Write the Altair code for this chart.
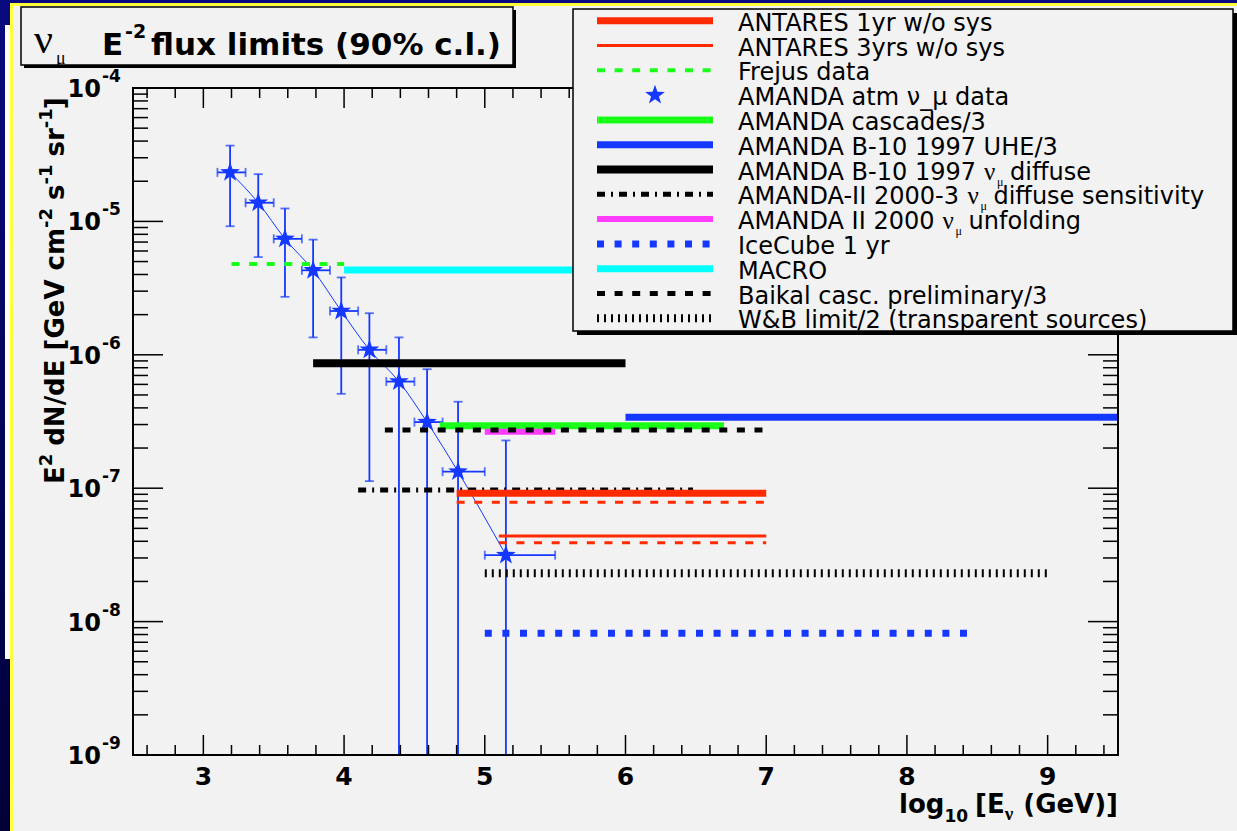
import altair as alt
import pandas as pd

# ---------------- data ----------------
# AMANDA atmospheric nu_mu spectrum: log10(E/GeV) bin centre and edges,
# E^2 dN/dE [GeV cm^-2 s^-1 sr^-1] with upper / lower error
atm_logE = [3.19, 3.39, 3.58, 3.78, 3.98, 4.18, 4.39, 4.59, 4.81, 5.15]
atm_logE_lo = [3.10, 3.30, 3.50, 3.70, 3.90, 4.10, 4.30, 4.50, 4.70, 5.00]
atm_logE_hi = [3.30, 3.50, 3.70, 3.90, 4.10, 4.30, 4.50, 4.70, 5.00, 5.50]
atm_flux = [2.33e-5, 1.38e-5, 7.4e-6, 4.3e-6, 2.13e-6, 1.09e-6, 6.3e-7, 3.13e-7, 1.33e-7, 3.15e-8]
atm_flux_hi = [3.7e-5, 2.26e-5, 1.25e-5, 7.3e-6, 3.8e-6, 2.05e-6, 1.35e-6, 7.8e-7, 4.45e-7, 2.28e-7]
atm_flux_lo = [9.2e-6, 5.4e-6, 2.72e-6, 1.35e-6, 5.1e-7, 1.13e-7, 1e-9, 1e-9, 1e-9, 1e-9]

# E^-2 flux limits / sensitivities: energy range (log10 E) and level
lim_key = ["amanda2_sens", "antares1", "antares1_sys", "antares3", "antares3_sys",
           "frejus", "macro", "b10", "cascades", "uhe", "unfolding", "baikal", "wb", "icecube"]
lim_emin = [4.10, 4.80, 4.80, 5.10, 5.10, 3.20, 4.00, 3.78, 4.68, 6.00, 5.00, 4.29, 5.00, 5.00]
lim_emax = [6.48, 7.00, 7.00, 7.00, 7.00, 4.00, 6.00, 6.00, 6.70, 9.50, 5.50, 7.00, 9.00, 8.50]
lim_flux = [9.70e-8, 9.16e-8, 7.84e-8, 4.38e-8, 3.90e-8, 4.80e-6, 4.32e-6, 8.63e-7, 2.94e-7,
            3.40e-7, 2.65e-7, 2.73e-7, 2.30e-8, 8.17e-9]

# legend entries ("|" marks where a nu_mu symbol is set)
legend_labels = ["ANTARES 1yr w/o sys", "ANTARES 3yrs w/o sys", "Frejus data", "AMANDA atm ν_μ data",
                 "AMANDA cascades/3", "AMANDA B-10 1997 UHE/3", "AMANDA B-10 1997 |diffuse",
                 "AMANDA-II 2000-3 |diffuse sensitivity", "AMANDA II 2000 |unfolding",
                 "IceCube 1 yr", "MACRO", "Baikal casc. preliminary/3", "W&B limit/2 (transparent sources)"]
legend_style = ["antares1", "antares3", "frejus", "star", "cascades", "uhe", "b10", "amanda2_sens",
                "unfolding", "icecube", "macro", "baikal", "wb"]

# axis ticks
x_major = [3, 4, 5, 6, 7, 8, 9]
x_minor = [v for v in [round(2.6 + 0.2 * k, 1) for k in range(35)] if v % 1 != 0]
y_exp = [-9, -8, -7, -6, -5, -4]
y_major = [10.0 ** e for e in y_exp]
y_minor = [k * 10.0 ** e for e in range(-9, -4) for k in range(2, 10)]

# ---------------- styling ----------------
RED, GREEN, BLUE = "#ff2a00", "#1aff1a", "#1438ff"
CYAN, MAGENTA, BLACK = "#00ffff", "#ff3cff", "#000000"
DASH = [8, 9.6]
STYLE = {
    "antares1": (RED, 7, None), "antares1_sys": (RED, 3, DASH),
    "antares3": (RED, 3, None), "antares3_sys": (RED, 3, DASH),
    "frejus": (GREEN, 4, DASH), "macro": (CYAN, 7, None), "b10": (BLACK, 8, None),
    "cascades": (GREEN, 7, None), "uhe": (BLUE, 7, None), "unfolding": (MAGENTA, 6, None),
    "amanda2_sens": (BLACK, 5, [8, 6, 2, 6]), "baikal": (BLACK, 5, DASH),
    "wb": (BLACK, 8, [2, 5]), "icecube": (BLUE, 7, [7, 10.6]),
}
SANS = "DejaVu Sans"
GREEK = "Liberation Serif"
STAR = ("M0,-1L0.235,-0.324L0.951,-0.309L0.38,0.124L0.588,0.809L0,0.4"
        "L-0.588,0.809L-0.38,0.124L-0.951,-0.309L-0.235,-0.324Z")
STAR_SIZE = 430

W, H = 985, 667          # frame size
LEFT, TOP = 133, 88      # frame origin on the canvas
CW, CH = 1237, 831       # canvas

XS = alt.Scale(domain=[2.5, 9.5], nice=False, zero=False)
YS = alt.Scale(type="log", domain=[1e-9, 1e-4], nice=False)
ONE = pd.DataFrame({"k": [0]})

# approximate advance widths (em) used to chain text pieces
W_B = {' ': .348, '(': .457, ')': .457, '[': .457, ']': .457, '-': .415, '/': .365, '.': .380,
       '%': 1.002, 'E': .683, 'G': .821, 'N': .837, 'V': .774, 'c': .593, 'd': .716, 'e': .678,
       'f': .435, 'g': .716, 'i': .343, 'l': .343, 'm': 1.042, 'o': .687, 'r': .493, 's': .595,
       't': .478, 'u': .712, 'x': .663, 'ν': .5}
W_R = {' ': .318, 'A': .684, 'M': .863, 'N': .748, 'D': .770, 'B': .686, 'I': .295, '-': .361}


def width(s, size, table):
    return sum(table.get(c, .636 if c.isdigit() else .62) for c in s) * size


def ax(px):
    return px - LEFT


def ay(py):
    return py - TOP


def box(x1, y1, x2, y2, **kw):
    return alt.Chart(ONE).mark_rect(**kw).encode(
        x=alt.value(ax(x1)), x2=alt.value(ax(x2)), y=alt.value(ay(y1)), y2=alt.value(ay(y2)))


def label(text, x, y, size, weight="normal", family=SANS, angle=0, align="left"):
    kw = dict(text=text, fontSize=size, fontWeight=weight, font=family, align=align,
              baseline="alphabetic", color="black")
    if angle:
        kw["angle"] = angle
    return alt.Chart(ONE).mark_text(**kw).encode(x=alt.value(x), y=alt.value(y))


def chain(pieces, start, along, fixed, angle=0):
    """Set text pieces one after another; leading blanks become an advance."""
    out = []
    cur = start
    for s, sz, sh, fam in pieces:
        body = s.lstrip(" ")
        cur += along * width(s[:len(s) - len(body)], sz, W_B)
        if angle:
            out.append(label(body, fixed + sh, cur, sz, "bold", fam, angle=angle))
        else:
            out.append(label(body, cur, fixed + sh, sz, "bold", fam))
        cur += along * width(body, sz, W_B)
    return out


layers = []

# ---- slide background, yellow rim, grey pad ----
layers.append(box(0, 0, CW, CH, color={"gradient": "linear", "x1": 0, "y1": 0, "x2": 0, "y2": 1,
                                      "stops": [{"offset": 0, "color": "#0a0a80"},
                                                {"offset": 1, "color": "#000038"}]}))
layers.append(box(5, 25, 10, 659, color="#ffffff"))
layers.append(box(10, 3, CW, CH, color="#ffff3c"))
layers.append(box(13, 6, CW, CH, color="#f2f2f2"))

# ---- AMANDA atmospheric data ----
atm = pd.DataFrame({"x": atm_logE, "xlo": atm_logE_lo, "xhi": atm_logE_hi,
                    "y": atm_flux, "ylo": atm_flux_lo, "yhi": atm_flux_hi})
X = alt.X("x:Q", scale=XS, axis=None)
Y = alt.Y("y:Q", scale=YS, axis=None)
base = alt.Chart(atm)
layers.append(base.mark_line(color=BLUE, strokeWidth=1, interpolate="monotone").encode(X, Y))
layers.append(base.mark_rule(color=BLUE, strokeWidth=1.8).encode(
    X, y=alt.Y("ylo:Q", scale=YS, axis=None), y2="yhi:Q"))
layers.append(base.mark_rule(color=BLUE, strokeWidth=1.8).encode(
    Y, x=alt.X("xlo:Q", scale=XS, axis=None), x2="xhi:Q"))
for fld in ["ylo", "yhi"]:
    layers.append(base.mark_tick(color=BLUE, orient="horizontal", size=9, thickness=1.8).encode(
        X, alt.Y(f"{fld}:Q", scale=YS, axis=None)))
for fld in ["xlo", "xhi"]:
    layers.append(base.mark_tick(color=BLUE, orient="vertical", size=9, thickness=1.8).encode(
        alt.X(f"{fld}:Q", scale=XS, axis=None), Y))
layers.append(base.mark_point(shape=STAR, filled=True, size=STAR_SIZE, color=BLUE, opacity=1).encode(X, Y))

# ---- limit segments ----
for key, e1, e2, f in zip(lim_key, lim_emin, lim_emax, lim_flux):
    col, sw, dash = STYLE[key]
    mk = dict(color=col, strokeWidth=sw, strokeCap="butt")
    if dash:
        mk["strokeDash"] = dash
    seg = pd.DataFrame({"x": [e1], "x2": [e2], "y": [f]})
    layers.append(alt.Chart(seg).mark_rule(**mk).encode(
        alt.X("x:Q", scale=XS, axis=None), x2="x2:Q", y=alt.Y("y:Q", scale=YS, axis=None)))

# ---- frame and inward ticks ----
layers.append(alt.Chart(ONE).mark_rect(fillOpacity=0, stroke="black", strokeWidth=2).encode(
    x=alt.value(0), x2=alt.value(W), y=alt.value(0), y2=alt.value(H)))
for vals, ln in [(x_major, 20), (x_minor, 10)]:
    d = alt.Chart(pd.DataFrame({"v": vals}))
    xv = alt.X("v:Q", scale=XS, axis=None)
    layers.append(d.mark_rule(color="black", strokeWidth=1.5).encode(xv, y=alt.value(H), y2=alt.value(H - ln)))
    layers.append(d.mark_rule(color="black", strokeWidth=1.5).encode(xv, y=alt.value(0), y2=alt.value(ln)))
for vals, ln in [(y_major, 30), (y_minor, 15)]:
    d = alt.Chart(pd.DataFrame({"v": vals}))
    yv = alt.Y("v:Q", scale=YS, axis=None)
    layers.append(d.mark_rule(color="black", strokeWidth=1.5).encode(yv, x=alt.value(0), x2=alt.value(ln)))
    layers.append(d.mark_rule(color="black", strokeWidth=1.5).encode(yv, x=alt.value(W), x2=alt.value(W - ln)))

# ---- tick labels ----
xl = pd.DataFrame({"v": x_major, "t": [str(v) for v in x_major]})
layers.append(alt.Chart(xl).mark_text(font=SANS, fontWeight="bold", fontSize=25, baseline="alphabetic").encode(
    alt.X("v:Q", scale=XS, axis=None), y=alt.value(H + 30), text="t:N"))
yl = pd.DataFrame({"v": y_major, "sup": [str(e) for e in y_exp]})
layers.append(alt.Chart(yl).mark_text(font=SANS, fontWeight="bold", fontSize=24, align="right",
                                      baseline="alphabetic", dy=9, text="10").encode(
    alt.Y("v:Q", scale=YS, axis=None), x=alt.value(ax(101))))
layers.append(alt.Chart(yl).mark_text(font=SANS, fontWeight="bold", fontSize=17, align="left",
                                      baseline="alphabetic", dy=-6).encode(
    alt.Y("v:Q", scale=YS, axis=None), x=alt.value(ax(102)), text="sup:N"))

# ---- axis titles (pieces with sub/superscripts) ----
xt = [("log", 26, 0, SANS), ("10", 17, 9, SANS), (" [E", 26, 0, SANS),
      ("ν", 19, 7, GREEK), (" (GeV)]", 26, 0, SANS)]
xt_len = sum(width(s, sz, W_B) for s, sz, _, _ in xt)
layers += chain(xt, W - xt_len, 1, ay(813))

yt = [("E", 26, 0, SANS), ("2", 18, -12, SANS), (" dN/dE [GeV cm", 26, 0, SANS), ("-2", 18, -12, SANS),
      (" s", 26, 0, SANS), ("-1", 18, -12, SANS), (" sr", 26, 0, SANS), ("-1", 18, -12, SANS),
      ("]", 26, 0, SANS)]
layers += chain(yt, ay(484), -1, ax(64), angle=270)

# ---- legend ----
LX1, LX2, LTX = 597, 713, 738
rows = [20.7 + 24.8 * i for i in range(len(legend_labels))]
layers.append(box(577, 13, 1237, 335, color="black"))
layers.append(box(573, 9, 1233, 331, color="#f2f2f2", stroke="black", strokeWidth=1.5))
for lab, sty, ry in zip(legend_labels, legend_style, rows):
    if sty == "star":
        layers.append(alt.Chart(ONE).mark_point(shape=STAR, filled=True, size=STAR_SIZE, color=BLUE, opacity=1)
                      .encode(x=alt.value(ax((LX1 + LX2) / 2)), y=alt.value(ay(ry))))
    else:
        col, sw, dash = STYLE[sty]
        mk = dict(color=col, strokeWidth=sw, strokeCap="butt")
        if dash:
            mk["strokeDash"] = dash
        layers.append(alt.Chart(ONE).mark_rule(**mk).encode(
            x=alt.value(ax(LX1)), x2=alt.value(ax(LX2)), y=alt.value(ay(ry))))
    base_y = ay(ry) + 10
    if "|" in lab:
        head, tail = lab.split("|")
        cx = ax(LTX)
        layers.append(label(head.rstrip(), cx, base_y, 24))
        cx += width(head, 24, W_R)
        layers.append(label("ν", cx, base_y, 25, family=GREEK))
        cx += 13
        layers.append(label("μ", cx, base_y + 6, 12, family=GREEK))
        cx += 13
        layers.append(label(tail, cx, base_y, 24))
    else:
        layers.append(label(lab, ax(LTX), base_y, 24))

# ---- title box ----
layers.append(box(24, 10, 516, 68, color="black"))
layers.append(box(21, 7, 513, 65, color="#f2f2f2", stroke="black", strokeWidth=1.5))
layers.append(label("ν", ax(34), ay(53), 42, family=GREEK))
layers.append(label("μ", ax(56), ay(64), 18, family=GREEK))
layers.append(label("E", ax(102), ay(55), 31, "bold"))
layers.append(label("-2", ax(125), ay(38), 19, "bold"))
layers.append(label("flux limits (90% c.l.)", ax(151), ay(55), 31, "bold"))

chart = alt.layer(*layers).properties(
    width=W, height=H,
    padding={"left": LEFT, "top": TOP, "right": CW - LEFT - W, "bottom": CH - TOP - H},
    autosize=alt.AutoSizeParams(type="none"),
    background="#000050",
).configure_view(strokeWidth=0)

chart.save("out.html", embed_options={"renderer": "svg", "actions": False})
